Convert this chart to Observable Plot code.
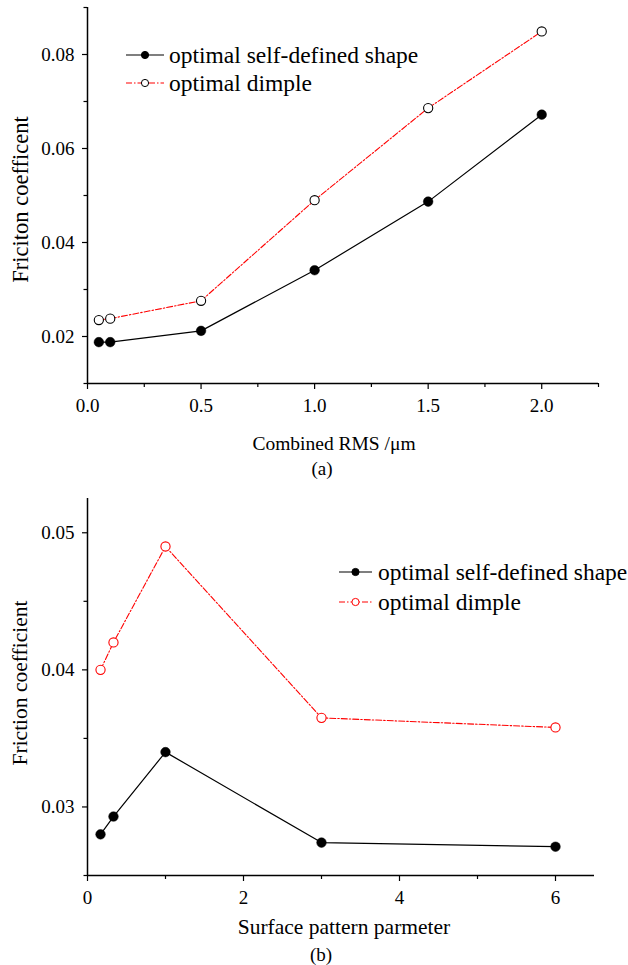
<!DOCTYPE html>
<html>
<head>
<meta charset="utf-8">
<script src="https://cdn.jsdelivr.net/npm/d3@7"></script>
<script src="https://cdn.jsdelivr.net/npm/@observablehq/plot@0.6"></script>
<style>
  html, body { margin: 0; padding: 0; background: #fff; overflow: hidden; }
  #wrap { width: 628px; }
  #wrap svg { display: block; }
  #wrap svg text { font-family: "Liberation Serif", Tinos, "Times New Roman", Times, "DejaVu Serif", serif !important; }
</style>
</head>
<body>
<div id="wrap"></div>
<script>
// ---------- Data: panel (a) ----------
const rmsA = [0.05, 0.1, 0.5, 1.0, 1.5, 2.0];
const selfDefinedA = [0.0188, 0.0188, 0.0212, 0.0341, 0.0487, 0.0672];
const dimpleA = [0.0235, 0.0238, 0.0276, 0.0490, 0.0686, 0.0849];
const xTicksA = [0, 0.5, 1.0, 1.5, 2.0];
const xMinorA = [0.25, 0.75, 1.25, 1.75, 2.25];
const yTicksA = [0.02, 0.04, 0.06, 0.08];
const yMinorA = [0.01, 0.03, 0.05, 0.07, 0.09];
const xDomainA = [0, 2.25];
const yDomainA = [0.01, 0.09];

// ---------- Data: panel (b) ----------
const patternB = [0.167, 0.333, 1, 3, 6];
const selfDefinedB = [0.0280, 0.0293, 0.0340, 0.0274, 0.0271];
const dimpleB = [0.0400, 0.0420, 0.0490, 0.0365, 0.0358];
const xTicksB = [0, 2, 4, 6];
const xMinorB = [1, 3, 5];
const yTicksB = [0.03, 0.04, 0.05];
const yMinorB = [0.025, 0.035, 0.045];
const xDomainB = [0, 6.5];
const yDomainB = [0.025, 0.0525];

const seriesNames = ["optimal self-defined shape", "optimal dimple"];

const FONT = '"Liberation Serif", Tinos, "Times New Roman", Times, "DejaVu Serif", serif';
const RED = "#ff0000";
const DASH = "6,2,1.5,2";

function table(xs, ys) { return xs.map((x, i) => ({x, y: ys[i]})); }

function legendMark(spec) {
  return () => {
    const g = d3.create("svg:g").attr("font-family", FONT).attr("text-anchor", "start");
    spec.items.forEach((it, i) => {
      const y = spec.y + i * spec.row;
      g.append("line")
        .attr("x1", spec.x1).attr("x2", spec.x2).attr("y1", y).attr("y2", y)
        .attr("stroke", it.line).attr("stroke-width", 1.1)
        .attr("stroke-dasharray", it.dash || null);
      g.append("circle")
        .attr("cx", (spec.x1 + spec.x2) / 2).attr("cy", y).attr("r", 3.6)
        .attr("fill", it.fill).attr("stroke", it.stroke).attr("stroke-width", 1);
      g.append("text")
        .attr("x", spec.tx).attr("y", y).attr("dy", "0.32em")
        .attr("text-anchor", "start")
        .attr("font-size", spec.fontSize).attr("fill", "#000")
        .text(it.label);
    });
    return g.node();
  };
}

function panel(cfg) {
  const selfData = table(cfg.xs, cfg.self);
  const dimpleData = table(cfg.xs, cfg.dimple);
  return Plot.plot({
    width: 628,
    height: cfg.height,
    marginLeft: 87,
    marginRight: cfg.marginRight,
    marginTop: cfg.marginTop,
    marginBottom: cfg.marginBottom,
    style: {fontFamily: FONT, fontSize: "19px", color: "#000", background: "#fff"},
    x: {domain: cfg.xDomain},
    y: {domain: cfg.yDomain},
    marks: [
      // axis lines
      Plot.ruleX([cfg.xDomain[0]], {stroke: "#000", strokeWidth: 1.5}),
      Plot.ruleY([cfg.yDomain[0]], {stroke: "#000", strokeWidth: 1.5}),
      // major/minor ticks
      Plot.axisX({ticks: cfg.xTicks, tickSize: 6, tickPadding: 9, tickFormat: cfg.xFormat, fontSize: 19, label: null, strokeWidth: 1.2}),
      Plot.axisX({ticks: cfg.xMinor, tickSize: 4, tickFormat: () => "", label: null, strokeWidth: 1.2}),
      Plot.axisY({ticks: cfg.yTicks, tickSize: 5, tickPadding: 8, tickFormat: cfg.yFormat, fontSize: 19, label: null, strokeWidth: 1.2}),
      Plot.axisY({ticks: cfg.yMinor, tickSize: 3.5, tickFormat: () => "", label: null, strokeWidth: 1.2}),
      // series
      Plot.line(dimpleData, {x: "x", y: "y", stroke: RED, strokeWidth: 1.1, strokeDasharray: DASH}),
      Plot.line(selfData, {x: "x", y: "y", stroke: "#000", strokeWidth: 1.2}),
      Plot.dot(dimpleData, {x: "x", y: "y", r: 4.6, fill: "#fff", stroke: cfg.openStroke, strokeWidth: 1.1}),
      Plot.dot(selfData, {x: "x", y: "y", r: 4.8, fill: "#000", stroke: "#000", strokeWidth: 0.5}),
      // titles
      Plot.text([cfg.xTitle], {frameAnchor: "bottom", textAnchor: "middle", dx: cfg.xTitleDx, dy: cfg.xTitleDy, lineAnchor: "middle", fontSize: cfg.xTitleSize, fill: "#000"}),
      Plot.text([cfg.caption], {frameAnchor: "bottom", textAnchor: "middle", dx: cfg.capDx, dy: cfg.capDy, lineAnchor: "middle", fontSize: 19, fill: "#000"}),
      Plot.text([cfg.yTitle], {frameAnchor: "left", textAnchor: "middle", dx: -67, dy: cfg.yTitleDy, rotate: -90, lineAnchor: "middle", fontSize: cfg.yTitleSize, fill: "#000"}),
      legendMark(cfg.legend)
    ]
  });
}

const wrap = document.getElementById("wrap");

wrap.appendChild(panel({
  height: 480, marginTop: 7, marginBottom: 97, marginRight: 30,
  xs: rmsA, self: selfDefinedA, dimple: dimpleA,
  xDomain: xDomainA, yDomain: yDomainA,
  xTicks: xTicksA, xMinor: xMinorA, yTicks: yTicksA, yMinor: yMinorA,
  xFormat: d3.format(".1f"), yFormat: d3.format(".2f"),
  openStroke: "#000",
  xTitle: "Combined RMS /\u03bcm", xTitleSize: 19.5, xTitleDx: -9, xTitleDy: 60,
  caption: "(a)", capDx: -21, capDy: 85,
  yTitle: "Friciton coefficent", yTitleSize: 22.5, yTitleDy: 4,
  legend: {x1: 126, x2: 164, tx: 169, y: 55, row: 28, fontSize: 23.5,
    items: [
      {label: seriesNames[0], line: "#000", fill: "#000", stroke: "#000"},
      {label: seriesNames[1], line: RED, dash: DASH, fill: "#fff", stroke: "#000"}
    ]}
}));

wrap.appendChild(panel({
  height: 485, marginTop: 18, marginBottom: 90, marginRight: 34,
  xs: patternB, self: selfDefinedB, dimple: dimpleB,
  xDomain: xDomainB, yDomain: yDomainB,
  xTicks: xTicksB, xMinor: xMinorB, yTicks: yTicksB, yMinor: yMinorB,
  xFormat: d3.format("d"), yFormat: d3.format(".2f"),
  openStroke: RED,
  xTitle: "Surface pattern parmeter", xTitleSize: 21.5, xTitleDx: 3, xTitleDy: 52,
  caption: "(b)", capDx: -20, capDy: 79,
  yTitle: "Friction coefficient", yTitleSize: 21.5, yTitleDy: -4,
  legend: {x1: 339, x2: 372, tx: 378, y: 92, row: 30, fontSize: 23.5,
    items: [
      {label: seriesNames[0], line: "#000", fill: "#000", stroke: "#000"},
      {label: seriesNames[1], line: RED, dash: DASH, fill: "#fff", stroke: RED}
    ]}
}));
</script>
</body>
</html>
